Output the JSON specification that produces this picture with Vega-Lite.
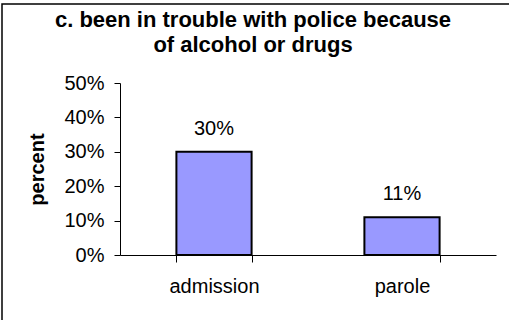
{
  "$schema": "https://vega.github.io/schema/vega-lite/v6.json",
  "width": 520,
  "height": 330,
  "padding": {"left": 2, "top": 4, "right": -13, "bottom": -14},
  "autosize": {"type": "none"},
  "background": "white",
  "config": {
    "view": {"stroke": "black", "strokeWidth": 1.5},
    "font": "Liberation Sans",
    "axis": {"domainColor": "black", "tickColor": "black", "labelColor": "black", "titleColor": "black", "grid": false, "labelFont": "Liberation Sans", "titleFont": "Liberation Sans"}
  },
  "title": {
    "text": ["c. been in trouble with police because", "of alcohol or drugs"],
    "font": "Liberation Sans",
    "fontSize": 22,
    "fontWeight": "bold",
    "color": "black",
    "lineHeight": 25,
    "baseline": "alphabetic",
    "anchor": "middle",
    "frame": "group",
    "dx": -9,
    "offset": -70
  },
  "data": {
    "values": [
      {"period": "admission", "percent": 0.30},
      {"period": "parole", "percent": 0.11}
    ]
  },
  "encoding": {
    "x": {
      "field": "period", "type": "nominal", "sort": null,
      "scale": {"range": [118, 494], "paddingInner": 0.6, "paddingOuter": 0.3},
      "axis": {"title": null, "labelAngle": 0, "labelFontSize": 20, "tickSize": 7, "labelPadding": 14, "tickBand": "extent", "offset": -79}
    },
    "y": {
      "field": "percent", "type": "quantitative",
      "scale": {"domain": [0, 0.5], "range": [251, 79]},
      "axis": {"title": "percent", "titleFontSize": 20, "titleFontWeight": "bold", "titlePadding": 16, "labelFontSize": 20, "format": ".0%", "values": [0, 0.1, 0.2, 0.3, 0.4, 0.5], "tickSize": 6, "labelPadding": 10, "offset": -118}
    }
  },
  "layer": [
    {"mark": {"type": "bar", "fill": "#9999FF", "stroke": "black", "strokeWidth": 2}},
    {
      "mark": {"type": "text", "dy": -17, "fontSize": 20, "baseline": "alphabetic", "color": "black"},
      "encoding": {
        "text": {"field": "percent", "format": ".0%"}
      }
    }
  ]
}
